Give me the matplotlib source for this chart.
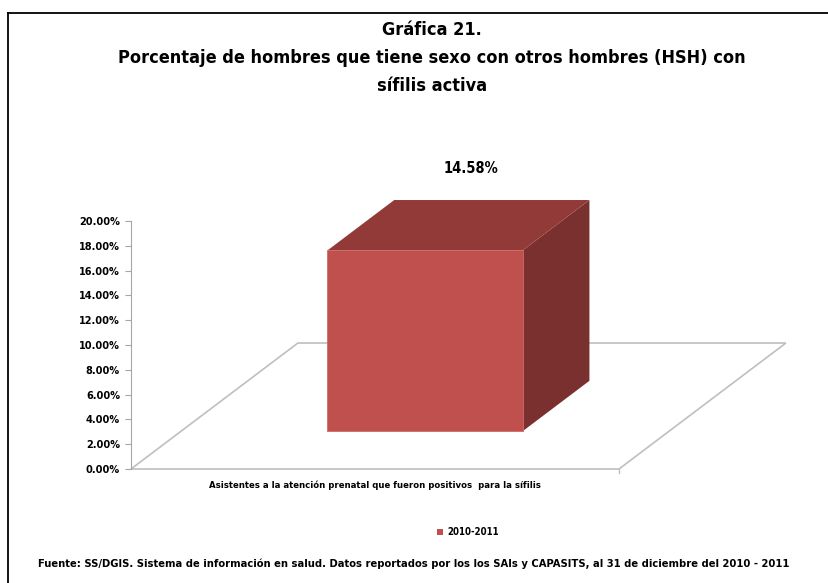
import matplotlib.pyplot as plt
from matplotlib.patches import Polygon, Patch
from matplotlib.lines import Line2D

plt.rcParams['font.family'] = ['DejaVu Sans']
plt.rcParams['font.stretch'] = 'condensed'
plt.rcParams['font.weight'] = 'bold'

title_lines = ["Gráfica 21.",
               "Porcentaje de hombres que tiene sexo con otros hombres (HSH) con",
               "sífilis activa"]
category = ["Asistentes a la atención prenatal que fueron positivos  para la sífilis"]
series_name = "2010-2011"
values = [14.58]
yticks = [0, 2, 4, 6, 8, 10, 12, 14, 16, 18, 20]
source = "Fuente: SS/DGIS. Sistema de información en salud. Datos reportados por los los SAIs y CAPASITS, al 31 de diciembre del 2010 - 2011"

# oblique depth vector (data units per unit of depth)
DX, DY = 0.342, 10.16


def proj(x, y, d):
    return (x + d * DX, y + d * DY)


fig = plt.figure(figsize=(8.29, 5.83), dpi=100)
W, H = 829, 583
ax = fig.add_axes([131 / W, (H - 469) / H, 488 / W, 248 / H])
ax.set_xlim(0, 1)
ax.set_ylim(0, 20)
for s in ['top', 'right', 'bottom']:
    ax.spines[s].set_visible(False)
ax.spines['left'].set_color('#a6a6a6')
ax.set_xticks([])
ax.set_yticks(yticks)
ax.set_yticklabels([f"{v:.2f}%" for v in yticks], fontsize=7.8, fontweight='bold')
ax.tick_params(axis='y', color='#a6a6a6', length=4, pad=4)

# floor
floor = [proj(0, 0, 0), proj(1, 0, 0), proj(1, 0, 1), proj(0, 0, 1)]
ax.add_patch(Polygon(floor, closed=True, fill=False, edgecolor='#bfbfbf', lw=1.2, clip_on=False))
ax.plot([1, 1], [0, -0.35], color='#bfbfbf', lw=1, clip_on=False)

# bar
x0, x1 = 0.30, 0.70
d0, d1 = 0.30, 0.70
for v in values:
    front = [proj(x0, 0, d0), proj(x1, 0, d0), proj(x1, v, d0), proj(x0, v, d0)]
    top = [proj(x0, v, d0), proj(x1, v, d0), proj(x1, v, d1), proj(x0, v, d1)]
    side = [proj(x1, 0, d0), proj(x1, 0, d1), proj(x1, v, d1), proj(x1, v, d0)]
    ax.add_patch(Polygon(side, closed=True, facecolor='#7a302e', edgecolor='none', clip_on=False))
    ax.add_patch(Polygon(top, closed=True, facecolor='#923a38', edgecolor='none', clip_on=False))
    ax.add_patch(Polygon(front, closed=True, facecolor='#c0504d', edgecolor='#d06a66', lw=0.6, clip_on=False))
    cx, cy = proj(0.5, v, 0.5)
    ax.annotate(f"{v:.2f}%", (cx, cy), xytext=(9, 41), textcoords='offset points',
                ha='center', va='center', fontsize=10.5, fontweight='bold', annotation_clip=False)

ax.text(0.5, -0.065, category[0], transform=ax.transAxes, ha='center', va='center',
        fontsize=6.8, fontweight='bold')

for line, ypx in zip(title_lines, [30, 58, 86]):
    fig.text(432 / W, 1 - ypx / H, line, ha='center', va='center', fontsize=13, fontweight='bold')

fig.legend(handles=[Patch(facecolor='#c0504d', label=series_name)], loc='center',
           bbox_to_anchor=(468 / W, 1 - 532 / H), frameon=False,
           handlelength=0.6, handleheight=0.6, handletextpad=0.4, prop={'weight': 'bold', 'size': 6.9})

fig.text(414 / W, 1 - 564 / H, source, ha='center', va='center', fontsize=8, fontweight='bold')

# outer border
fig.add_artist(Line2D([8 / W, 1], [1 - 13 / H, 1 - 13 / H], color='black', lw=1.3))
fig.add_artist(Line2D([8 / W, 8 / W], [0, 1 - 13 / H], color='black', lw=1.3))

fig.savefig('out.png', dpi=100)
